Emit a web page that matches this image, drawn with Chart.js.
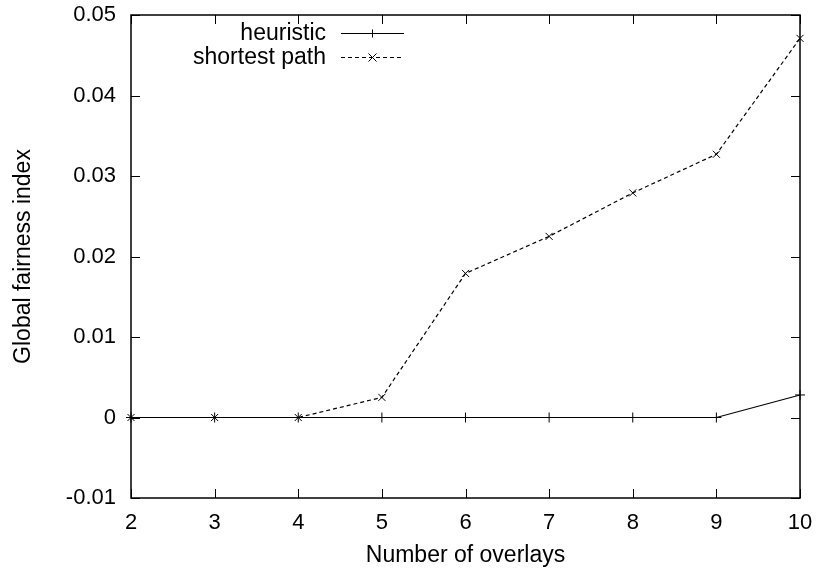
<!DOCTYPE html>
<html>
<head>
<meta charset="utf-8">
<script src="https://cdn.jsdelivr.net/npm/chart.js@4/dist/chart.umd.min.js"></script>
<style>
  html, body { margin: 0; padding: 0; background: #fff; }
  #wrap { width: 817px; height: 569px; }
</style>
</head>
<body>
<div id="wrap"><canvas id="fairnessChart" width="817" height="569"></canvas></div>
<script>
// Valores do gráfico
const overlays = [2, 3, 4, 5, 6, 7, 8, 9, 10];
const heuristic = [0, 0, 0, 0, 0, 0, 0, 0, 0.0028];
const shortestPath = [0, 0, 0, 0.0025, 0.0179, 0.0225, 0.0279, 0.0327, 0.0471];
const yTicks = [-0.01, 0, 0.01, 0.02, 0.03, 0.04, 0.05];

const FONT = 'Liberation Sans, Arial, Helvetica, sans-serif';
const FSIZE = 23;
const TICKSIZE = 22;

// Moldura com marcas de escala para dentro (estilo gnuplot) + legenda interna
const framePlugin = {
    id: 'frame',
    beforeDatasetsDraw(chart) {
        const { ctx, chartArea: a, scales } = chart;
        const t = 9;
        ctx.save();
        ctx.strokeStyle = '#000';
        ctx.lineWidth = 1;
        ctx.setLineDash([]);
        ctx.beginPath();
        scales.x.ticks.forEach(tk => {
            const px = Math.round(scales.x.getPixelForValue(tk.value)) + 0.5;
            ctx.moveTo(px, a.bottom); ctx.lineTo(px, a.bottom - t);
            ctx.moveTo(px, a.top); ctx.lineTo(px, a.top + t);
        });
        scales.y.ticks.forEach(tk => {
            const py = Math.round(scales.y.getPixelForValue(tk.value)) + 0.5;
            ctx.moveTo(a.left, py); ctx.lineTo(a.left + t, py);
            ctx.moveTo(a.right, py); ctx.lineTo(a.right - t, py);
        });
        ctx.stroke();
        ctx.lineWidth = 1.5;
        ctx.strokeRect(a.left, a.top, a.right - a.left, a.bottom - a.top);
        ctx.restore();
    },
    afterDatasetsDraw(chart) {
        const { ctx } = chart;
        // legenda
        ctx.save();
        ctx.strokeStyle = '#000';
        ctx.font = FSIZE + 'px ' + FONT;
        ctx.fillStyle = '#000';
        ctx.textAlign = 'right';
        ctx.textBaseline = 'middle';
        chart.data.datasets.forEach((ds, i) => {
            const y = 33.5 + i * 24;
            ctx.fillText(ds.label, 326, y);
            ctx.lineWidth = 1;
            ctx.setLineDash(ds.borderDash || []);
            ctx.beginPath();
            ctx.moveTo(341, y); ctx.lineTo(404, y);
            ctx.stroke();
            ctx.setLineDash([]);
            ctx.beginPath();
            const cx = 372.5, r = 4;
            if (ds.pointStyle === 'cross') {
                ctx.moveTo(cx - r, y); ctx.lineTo(cx + r, y);
                ctx.moveTo(cx, y - r); ctx.lineTo(cx, y + r);
            } else {
                ctx.moveTo(cx - r, y - r); ctx.lineTo(cx + r, y + r);
                ctx.moveTo(cx - r, y + r); ctx.lineTo(cx + r, y - r);
            }
            ctx.stroke();
        });
        ctx.restore();
    }
};

const ctx = document.getElementById('fairnessChart').getContext('2d');
const fairnessChart = new Chart(ctx, {
    type: 'line',
    data: {
        datasets: [{
            label: 'heuristic',
            data: overlays.map((x, i) => ({ x: x, y: heuristic[i] })),
            borderColor: '#000',
            borderWidth: 1.2,
            pointStyle: 'cross',
            pointRadius: 5,
            pointBorderColor: '#000',
            pointBorderWidth: 1,
            fill: false,
            clip: false,
            tension: 0
        }, {
            label: 'shortest path',
            data: overlays.map((x, i) => ({ x: x, y: shortestPath[i] })),
            borderColor: '#000',
            borderWidth: 1.2,
            borderDash: [4, 3],
            pointStyle: 'crossRot',
            pointRadius: 5,
            pointBorderColor: '#000',
            pointBorderWidth: 1,
            fill: false,
            clip: false,
            tension: 0
        }]
    },
    options: {
        responsive: false,
        animation: false,
        layout: { padding: { top: 15, right: 17, left: 0, bottom: 0 } },
        plugins: {
            legend: { display: false },
            tooltip: { enabled: false }
        },
        scales: {
            x: {
                type: 'linear',
                min: 2,
                max: 10,
                ticks: { stepSize: 1, color: '#000', padding: 12, font: { family: FONT, size: TICKSIZE } },
                grid: { display: false, drawTicks: false },
                border: { display: false },
                title: {
                    display: true,
                    text: 'Number of overlays',
                    color: '#000',
                    font: { family: FONT, size: FSIZE },
                    padding: { top: 5, bottom: 0 }
                },
                afterFit: s => { s.height = 71; s.paddingLeft = 0; s.paddingRight = 0; }
            },
            y: {
                type: 'linear',
                min: yTicks[0],
                max: yTicks[yTicks.length - 1],
                afterBuildTicks: s => { s.ticks = yTicks.map(v => ({ value: v })); },
                ticks: {
                    color: '#000',
                    padding: 15,
                    font: { family: FONT, size: TICKSIZE },
                    callback: v => String(parseFloat(v.toFixed(2)))
                },
                grid: { display: false, drawTicks: false },
                border: { display: false },
                title: {
                    display: true,
                    text: 'Global fairness index',
                    color: '#000',
                    font: { family: FONT, size: FSIZE },
                    padding: { top: 10, bottom: 0 }
                },
                afterFit: s => { s.width = 131; s.paddingTop = 0; s.paddingBottom = 0; }
            }
        }
    },
    plugins: [framePlugin]
});
</script>
</body>
</html>
